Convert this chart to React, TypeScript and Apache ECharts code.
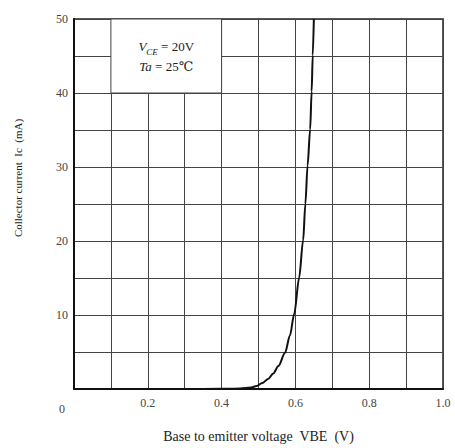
import React, { useEffect, useRef } from "react";
import * as echarts from "echarts";

const baseEmitterVoltage = [0, 0.1, 0.2, 0.3, 0.4, 0.45, 0.48, 0.495, 0.51, 0.527, 0.54, 0.554, 0.572, 0.585, 0.597, 0.61, 0.621, 0.627, 0.633, 0.64, 0.644, 0.647, 0.65];
const collectorCurrent = [0, 0, 0, 0, 0.02, 0.08, 0.2, 0.4, 0.8, 1.4, 2.1, 3.1, 4.9, 7.2, 10.2, 15.0, 20.1, 25.0, 30.2, 35.1, 40.2, 45.1, 50];
const xAxisTitle = "Base to emitter voltage  VBE  (V)";
const yAxisTitle = "Collector current  Ic  (mA)";

const FONT = "'Liberation Serif', 'DejaVu Serif', serif";

export default function App() {
  const ref = useRef<HTMLDivElement>(null);
  useEffect(() => {
    if (!ref.current) return;
    const chart = echarts.init(ref.current, undefined, { renderer: "svg" });
    const data = baseEmitterVoltage.map((v, i) => [v, collectorCurrent[i]]);
    const gridLine = { color: "#444", width: 1 };
    chart.setOption({
      animation: false,
      backgroundColor: "#fff",
      grid: {
        left: 74,
        right: 12,
        top: 19,
        bottom: 51,
        show: true,
        borderColor: "#222",
        borderWidth: 1.5,
      },
      xAxis: {
        type: "value",
        min: 0,
        max: 1.0,
        interval: 0.1,
        name: xAxisTitle,
        nameLocation: "middle",
        nameGap: 40,
        nameTextStyle: { fontFamily: FONT, fontSize: 14, color: "#222" },
        axisLine: { show: true, lineStyle: { color: "#111", width: 2 } },
        axisTick: { show: false },
        splitLine: { show: true, lineStyle: gridLine },
        axisLabel: {
          fontFamily: FONT,
          fontSize: 12,
          color: "#444",
          margin: 8,
          formatter: (v: number) => {
            const k = Math.round(v * 10);
            if (k === 0 || k % 2 !== 0) return "";
            return (k / 10).toFixed(1);
          },
        },
      },
      yAxis: {
        type: "value",
        min: 0,
        max: 50,
        interval: 5,
        axisLine: { show: true, lineStyle: { color: "#111", width: 2 } },
        axisTick: { show: false },
        splitLine: { show: true, lineStyle: gridLine },
        axisLabel: {
          fontFamily: FONT,
          fontSize: 12,
          color: "#444",
          margin: 6,
          formatter: (v: number) => (v === 0 || v % 10 !== 0 ? "" : String(v)),
        },
      },
      graphic: [
        {
          type: "text",
          left: 59,
          top: 403,
          style: { text: "0", font: `12px ${FONT}`, fill: "#444" },
        },
        {
          type: "text",
          x: 18,
          y: 178,
          rotation: Math.PI / 2,
          style: {
            text: yAxisTitle,
            font: `11px ${FONT}`,
            fill: "#222",
            align: "center",
            verticalAlign: "middle",
          },
        },
      ],
      series: [
        {
          type: "line",
          data,
          showSymbol: false,
          smooth: 0.3,
          smoothMonotone: "x",
          lineStyle: { color: "#111", width: 2 },
          markArea: {
            silent: true,
            itemStyle: { color: "#fff", borderColor: "#444", borderWidth: 1 },
            label: {
              show: true,
              position: "inside",
              fontFamily: FONT,
              formatter: "{v|V}{sub|CE}{t| = 20V}\n{v|Ta}{t| = 25℃}",
              rich: {
                v: { fontFamily: FONT, fontStyle: "italic", fontSize: 13, color: "#222", lineHeight: 20 },
                sub: { fontFamily: FONT, fontStyle: "italic", fontSize: 9, color: "#222", verticalAlign: "bottom", lineHeight: 20, padding: [4, 0, 0, 0] },
                t: { fontFamily: FONT, fontSize: 13, color: "#222", lineHeight: 20 },
              },
            },
            data: [[{ coord: [0.1, 40] }, { coord: [0.4, 50] }]],
          },
          z: 3,
        },
      ],
    });
    return () => chart.dispose();
  }, []);
  return <div ref={ref} style={{ position: "absolute", left: 0, top: 0, width: 455, height: 448 }} />;
}
